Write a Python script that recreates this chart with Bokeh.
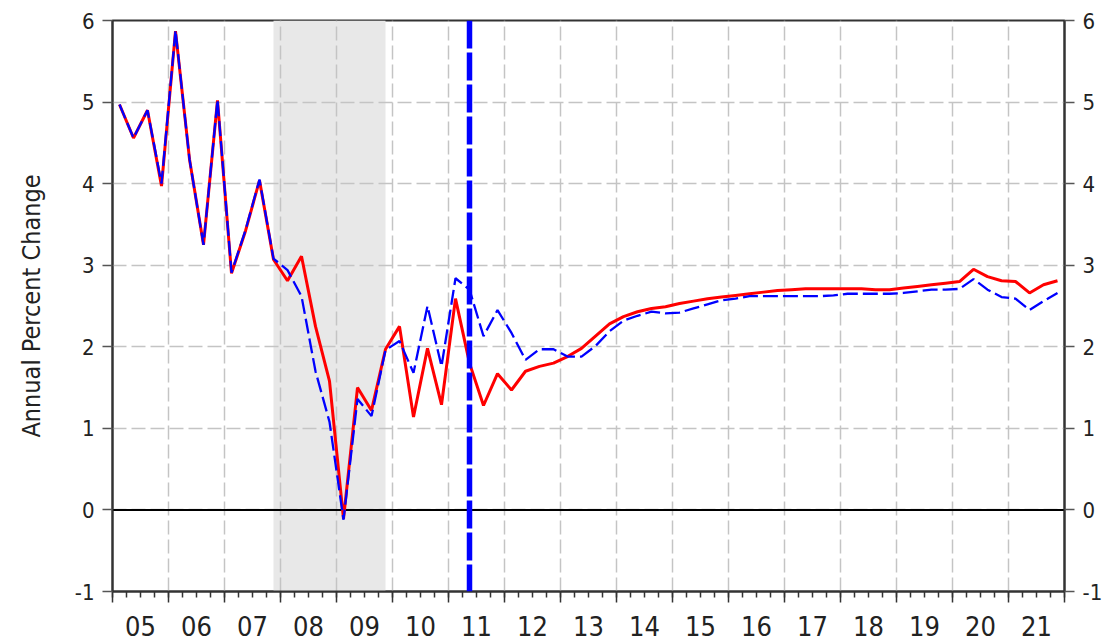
from bokeh.plotting import figure
from bokeh.models import (Range1d, FixedTicker, LinearAxis, BoxAnnotation, Span,
                          ColumnDataSource, CustomJSTickFormatter)
from bokeh.embed import file_html
from bokeh.resources import INLINE

# ---------------- data ----------------
first_year = 2005
last_year = 2021
year_labels = ["05", "06", "07", "08", "09", "10", "11", "12", "13",
               "14", "15", "16", "17", "18", "19", "20", "21"]
y_ticks = [-1, 0, 1, 2, 3, 4, 5, 6]
y_tick_labels = ["-1", "0", "1", "2", "3", "4", "5", "6"]

red_series = [4.97, 4.56, 4.90, 3.97, 5.87, 4.30, 3.25, 5.02,
              2.90, 3.42, 4.04, 3.07, 2.81, 3.11, 2.25, 1.58,
              -0.11, 1.50, 1.22, 1.97, 2.25, 1.14, 1.98, 1.29,
              2.59, 1.80, 1.28, 1.67, 1.47, 1.70, 1.76, 1.80,
              1.88, 1.98, 2.13, 2.28, 2.37, 2.43, 2.47, 2.49,
              2.53, 2.56, 2.59, 2.61, 2.63, 2.65, 2.67, 2.69,
              2.70, 2.71, 2.71, 2.71, 2.71, 2.71, 2.70, 2.70,
              2.72, 2.74, 2.76, 2.78, 2.80, 2.95, 2.86, 2.81,
              2.80, 2.66, 2.76, 2.81]

blue_series = [4.97, 4.56, 4.90, 4.00, 5.88, 4.30, 3.25, 5.03,
               2.91, 3.43, 4.05, 3.08, 2.94, 2.62, 1.70, 1.08,
               -0.12, 1.36, 1.15, 1.96, 2.07, 1.68, 2.50, 1.76,
               2.84, 2.70, 2.13, 2.45, 2.17, 1.84, 1.97, 1.97,
               1.88, 1.88, 2.01, 2.19, 2.32, 2.38, 2.43, 2.41,
               2.42, 2.47, 2.52, 2.57, 2.59, 2.62, 2.62, 2.62,
               2.62, 2.62, 2.62, 2.63, 2.65, 2.65, 2.65, 2.65,
               2.66, 2.68, 2.70, 2.70, 2.71, 2.83, 2.70, 2.61,
               2.59, 2.45, 2.56, 2.66]

recession_start = 2007.875
recession_end = 2009.875
marker_x = 2011.375

# --------------- derived ---------------
years = list(range(first_year, last_year + 1))
n_q = len(red_series)
qx = [first_year + (i + 0.5) / 4 for i in range(n_q)]
src = ColumnDataSource(dict(x=qx, red=red_series, blue=blue_series))

FONT = "'Liberation Sans Narrow', 'DejaVu Sans Condensed', 'Roboto Condensed', sans-serif"
TXT = "#222222"
AX = "#333333"

p = figure(width=1108, height=643,
           x_range=Range1d(first_year, last_year + 1),
           y_range=Range1d(y_ticks[0], y_ticks[-1]),
           output_backend="svg", toolbar_location=None,
           min_border_left=112, min_border_right=44,
           min_border_top=20, min_border_bottom=52)
p.background_fill_color = "white"
p.border_fill_color = "white"
p.outline_line_color = AX
p.outline_line_width = 2

# grids
p.xgrid.ticker = FixedTicker(ticks=years[1:])
p.ygrid.ticker = FixedTicker(ticks=y_ticks[1:-1])
for g in (p.xgrid, p.ygrid):
    g.grid_line_color = "#c4c4c4"
    g.grid_line_width = 1.5
    g.grid_line_dash = "14 5"

# recession shading
p.add_layout(BoxAnnotation(left=recession_start, right=recession_end,
                           fill_color="#e8e8e8", fill_alpha=1.0,
                           line_color=None, level="image"))

# zero line
p.add_layout(Span(location=0, dimension="width", line_color="black",
                  line_width=2, level="underlay"))

# series
p.line("x", "red", source=src, line_color="#ff0000", line_width=3)
p.line("x", "blue", source=src, line_color="#0000ff", line_width=2.3,
       line_dash="15 5")

# vertical marker
p.add_layout(Span(location=marker_x, dimension="height", line_color="#0000ff",
                  line_width=5.5, line_dash="28 4"))

# y axes
def style_y(ax):
    ax.ticker = FixedTicker(ticks=y_ticks)
    ax.major_label_overrides = {t: s for t, s in zip(y_ticks, y_tick_labels)}
    ax.major_tick_out = 10
    ax.major_tick_in = 0
    ax.minor_tick_out = 0
    ax.minor_tick_in = 0
    ax.major_tick_line_color = "#555555"
    ax.major_tick_line_width = 1.5
    ax.axis_line_color = AX
    ax.axis_line_width = 2
    ax.major_label_text_font = FONT
    ax.major_label_text_font_size = "22px"
    ax.major_label_text_color = TXT
    ax.major_label_standoff = 8

yl = p.yaxis[0]
style_y(yl)
yl.axis_label = "Annual Percent Change"
yl.axis_label_text_font = FONT
yl.axis_label_text_font_size = "25px"
yl.axis_label_text_font_style = "normal"
yl.axis_label_text_color = TXT
yl.axis_label_standoff = 26

yr = LinearAxis()
style_y(yr)
p.add_layout(yr, "right")

# x axis: ticks at year boundaries, quarter minor ticks
xa = p.xaxis[0]
xa.ticker = FixedTicker(ticks=years + [last_year + 1],
                        minor_ticks=[first_year + i / 4 for i in range(n_q + 1)])
xa.formatter = CustomJSTickFormatter(code="return ''")
xa.major_tick_out = 11
xa.major_tick_in = 0
xa.minor_tick_out = 6
xa.minor_tick_in = 0
xa.major_tick_line_color = AX
xa.minor_tick_line_color = AX
xa.major_tick_line_width = 1.5
xa.minor_tick_line_width = 1.5
xa.axis_line_color = AX
xa.axis_line_width = 2
xa.major_label_text_font_size = "1px"
xa.major_label_standoff = 0

# x labels centred in each year
xl = LinearAxis(ticker=FixedTicker(ticks=[y + 0.5 for y in years]),
                major_label_overrides={y + 0.5: lab for y, lab in zip(years, year_labels)})
xl.axis_line_color = None
xl.major_tick_out = 0
xl.major_tick_in = 0
xl.minor_tick_out = 0
xl.minor_tick_in = 0
xl.major_label_text_font = FONT
xl.major_label_text_font_size = "27px"
xl.major_label_text_color = TXT
xl.major_label_standoff = 13
p.add_layout(xl, "below")

open("out.html", "w").write(file_html(p, INLINE))
